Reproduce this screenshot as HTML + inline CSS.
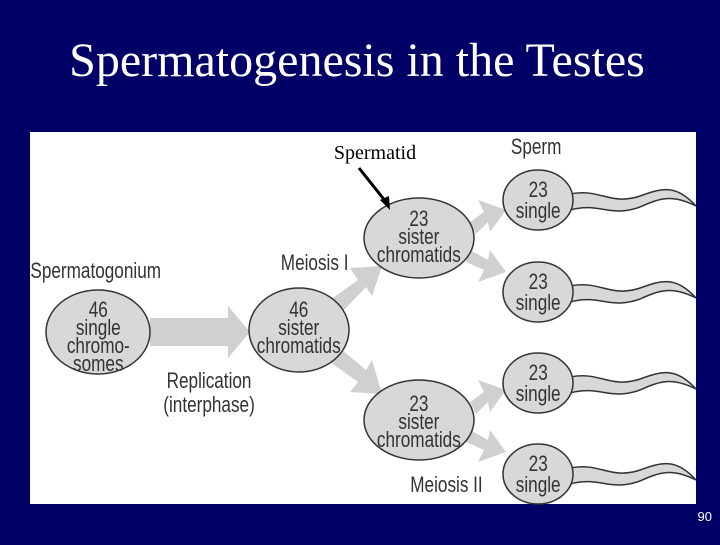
<!DOCTYPE html>
<html><head><style>
body{margin:0;width:720px;height:540px;background:#000066;overflow:hidden}
</style></head><body>
<svg width="720" height="540" xmlns="http://www.w3.org/2000/svg">
<rect width="720" height="540" fill="#000066"/>
<text x="357" y="76" text-anchor="middle" font-family="Liberation Serif" font-size="48" fill="#fff">Spermatogenesis in the Testes</text>
<rect x="30" y="132" width="666" height="372" fill="#fff"/>
<g fill="#d0d0d0">
<polygon points="150,318 228,318 228,306 250,332 228,358 228,346 150,346"/>
<polygon points="330,300 358,280 350,268 382,266 372,296 366,287 342,312"/>
<polygon points="342,350 366,370 372,360 382,394 350,392 358,382 330,362"/>
<polygon points="470,222 484,212 478,200 506,210 490,232 488,222 476,234"/>
<polygon points="470,250 488,260 490,250 506,272 478,282 484,270 466,262"/>
<polygon points="470,402 484,392 478,380 506,390 490,412 488,402 476,414"/>
<polygon points="470,430 488,440 490,430 506,452 478,462 484,450 466,442"/>
</g>
<g fill="#d8d8d8" stroke="#333" stroke-width="1.5">
<ellipse cx="98" cy="332" rx="52" ry="42"/>
<ellipse cx="299" cy="330" rx="50" ry="42"/>
<ellipse cx="419" cy="238" rx="55" ry="40"/>
<ellipse cx="419" cy="420" rx="55" ry="40"/>
<g id="s1">
<path d="M570,194 C600,188 610,206 640,196 C662,188 676,184 696,206 C672,194 660,198 640,207 C610,218 600,202 570,210 Z"/>
<ellipse cx="538" cy="200" rx="35" ry="30"/>
</g>
<use href="#s1" y="92"/>
<use href="#s1" y="183"/>
<use href="#s1" y="274"/>
</g>
<g font-family="Liberation Sans" fill="#333" text-anchor="middle" font-size="22">
<g transform="scale(0.78,1)">
<text x="126" y="317">46</text>
<text x="126" y="335">single</text>
<text x="126" y="353">chromo-</text>
<text x="126" y="371">somes</text>
<text x="383" y="317">46</text>
<text x="383" y="335">sister</text>
<text x="383" y="353">chromatids</text>
<text x="537" y="226">23</text>
<text x="537" y="244">sister</text>
<text x="537" y="262">chromatids</text>
<text x="537" y="411">23</text>
<text x="537" y="429">sister</text>
<text x="537" y="447">chromatids</text>
<text x="690" y="197">23</text><text x="690" y="218">single</text>
<text x="690" y="289">23</text><text x="690" y="310">single</text>
<text x="690" y="380">23</text><text x="690" y="401">single</text>
<text x="690" y="471">23</text><text x="690" y="492">single</text>
<text x="39" y="278" text-anchor="start">Spermatogonium</text>
<text x="360" y="270" text-anchor="start">Meiosis I</text>
<text x="526" y="492" text-anchor="start">Meiosis II</text>
<text x="655" y="154" text-anchor="start">Sperm</text>
<text x="268" y="388">Replication</text>
<text x="268" y="412">(interphase)</text>
</g>
</g>
<text x="375" y="159" text-anchor="middle" font-family="Liberation Serif" font-size="20" fill="#000">Spermatid</text>
<line x1="359" y1="168" x2="386" y2="202" stroke="#000" stroke-width="3"/>
<polygon points="390,210 380,200 389,196" fill="#000"/>
<text x="712" y="521" text-anchor="end" font-family="Liberation Sans" font-size="13" fill="#fff">90</text>
</svg>
</body></html>
